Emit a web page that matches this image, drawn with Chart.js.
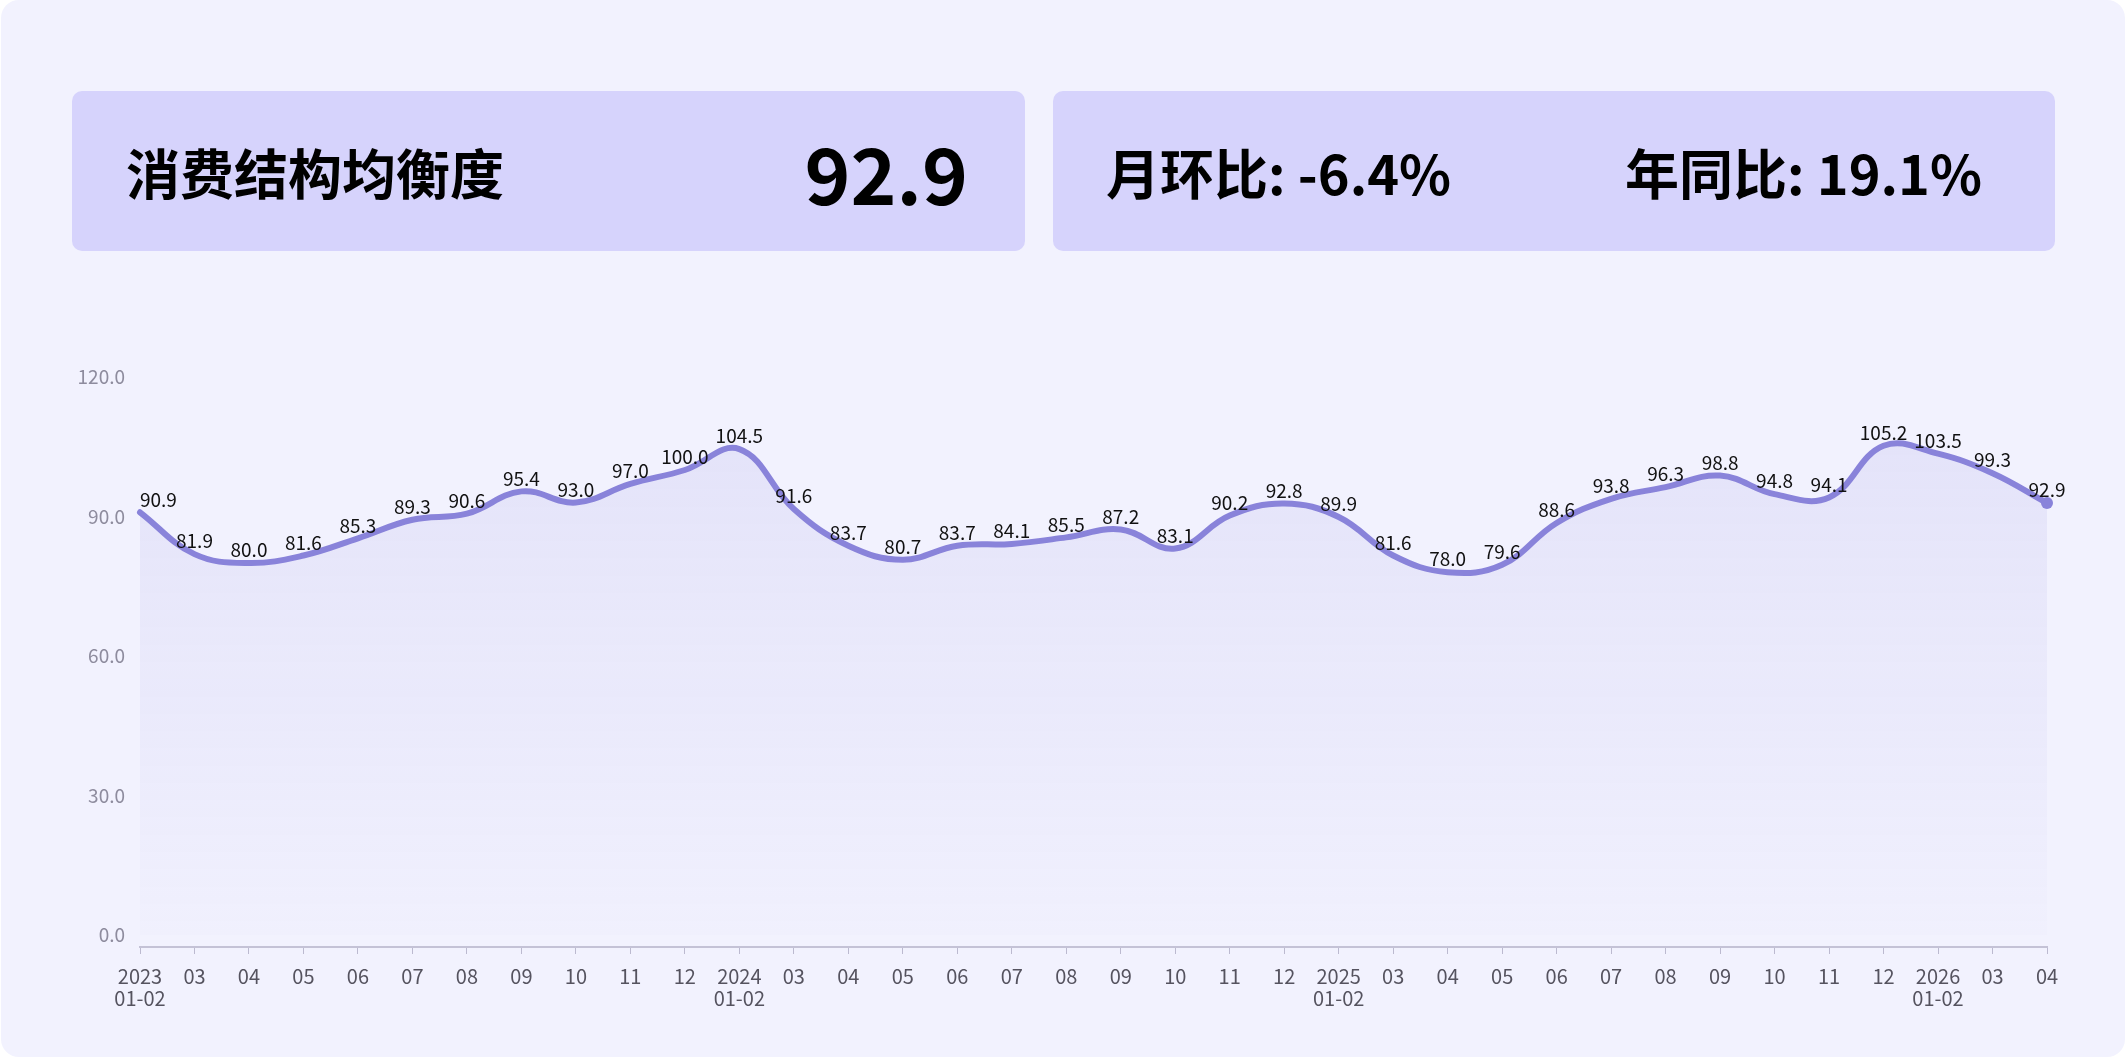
<!DOCTYPE html>
<html>
<head>
<meta charset="utf-8">
<script src="https://cdn.jsdelivr.net/npm/chart.js@4/dist/chart.umd.min.js"></script>
<style>
	html, body { margin: 0; padding: 0; background: #ffffff; }
	body { width: 2127px; height: 1058px; position: relative; overflow: hidden; font-family: "Noto Sans CJK SC", "Noto Sans", sans-serif; }
	#panel { position: absolute; left: 1px; top: 0; width: 2124px; height: 1057px; background: #f2f2fe; border-radius: 18px; }
	.card { position: absolute; top: 91px; height: 160px; background: #d6d3fc; border-radius: 10px; display: flex; align-items: center; justify-content: space-between; box-sizing: border-box; color: #000; font-weight: bold; }
	#card-left { left: 72px; width: 953px; padding: 0 57px 0 54px; }
	#card-right { left: 1053px; width: 1002px; padding: 0 73px 0 53px; }
	.label { font-size: 54px; }
	.big { font-size: 78px; }
	#chart-parent { position: absolute; left: 0; top: 300px; width: 2127px; height: 758px; }
</style>
</head>
<body>
<div id="panel"></div>
<div class="card" id="card-left"><span class="label">消费结构均衡度</span><span class="big">92.9</span></div>
<div class="card" id="card-right"><span class="label">月环比: -6.4%</span><span class="label">年同比: 19.1%</span></div>
<div id="chart-parent"><canvas id="chart"></canvas></div>
<script>
// months, 1-2 combined as in the source
var months = [
	['2023', '01-02'], '03', '04', '05', '06', '07', '08', '09', '10', '11', '12',
	['2024', '01-02'], '03', '04', '05', '06', '07', '08', '09', '10', '11', '12',
	['2025', '01-02'], '03', '04', '05', '06', '07', '08', '09', '10', '11', '12',
	['2026', '01-02'], '03', '04'
];

var values = [
	90.9, 81.9, 80.0, 81.6, 85.3, 89.3, 90.6, 95.4, 93.0, 97.0, 100.0,
	104.5, 91.6, 83.7, 80.7, 83.7, 84.1, 85.5, 87.2, 83.1, 90.2, 92.8,
	89.9, 81.6, 78.0, 79.6, 88.6, 93.8, 96.3, 98.8, 94.8, 94.1, 105.2,
	103.5, 99.3, 92.9
];

var yTicks = [0, 30, 60, 90, 120];

var lineColor = 'rgb(137, 131, 218)';

var valueLabels = {
	id: 'valueLabels',
	afterDatasetsDraw: function(chart) {
		var ctx = chart.ctx;
		var meta = chart.getDatasetMeta(0);
		ctx.save();
		ctx.font = '19px "Noto Sans CJK SC"';
		ctx.fillStyle = '#111111';
		ctx.textBaseline = 'middle';
		meta.data.forEach(function(pt, i) {
			ctx.textAlign = (i == 0) ? 'left' : 'center';
			ctx.fillText(values[i].toFixed(1), pt.x, pt.y - 13);
		});
		ctx.restore();
	}
};

function fillGradient(context) {
	var area = context.chart.chartArea;
	if (!area)
		return 'rgba(137, 131, 218, 0.08)';
	var g = context.chart.ctx.createLinearGradient(0, area.top, 0, area.bottom);
	g.addColorStop(0, 'rgba(137, 131, 218, 0.14)');
	g.addColorStop(1, 'rgba(137, 131, 218, 0.01)');
	return g;
}

new Chart(document.getElementById('chart'), {
	type: 'line',
	data: {
		labels: months,
		datasets: [{
			data: values,
			borderColor: lineColor,
			borderWidth: 6,
			borderCapStyle: 'round',
			tension: 0.4,
			fill: 'origin',
			backgroundColor: fillGradient,
			pointRadius: function(c) { return c.dataIndex == values.length - 1 ? 6 : 0; },
			pointBackgroundColor: lineColor,
			pointBorderWidth: 0
		}]
	},
	options: {
		responsive: true,
		maintainAspectRatio: false,
		animation: false,
		layout: { padding: { top: 77, right: 80, bottom: 0, left: 0 } },
		plugins: {
			legend: { display: false },
			tooltip: { enabled: false }
		},
		scales: {
			x: {
				offset: false,
				afterFit: function(scale) { scale.height = 111; },
				grid: { display: true, drawOnChartArea: false, drawTicks: true, tickLength: 7, color: '#bcbad0' },
				border: { display: true, color: '#c4c2d6', width: 2 },
				ticks: {
					autoSkip: false,
					maxRotation: 0,
					padding: 11,
					color: '#55535f',
					font: { family: 'Noto Sans CJK SC', size: 20, lineHeight: 1.1 }
				}
			},
			y: {
				min: -2.6,
				max: 120,
				afterFit: function(scale) { scale.width = 140; },
				afterBuildTicks: function(scale) {
					scale.ticks = yTicks.map(function(v) { return { value: v }; });
				},
				grid: { display: false, drawTicks: false },
				border: { display: false },
				ticks: {
					padding: 15,
					color: '#8e8c9e',
					font: { family: 'Noto Sans CJK SC', size: 19 },
					callback: function(v) { return Number(v).toFixed(1); }
				}
			}
		}
	},
	plugins: [valueLabels]
});
</script>
</body>
</html>
